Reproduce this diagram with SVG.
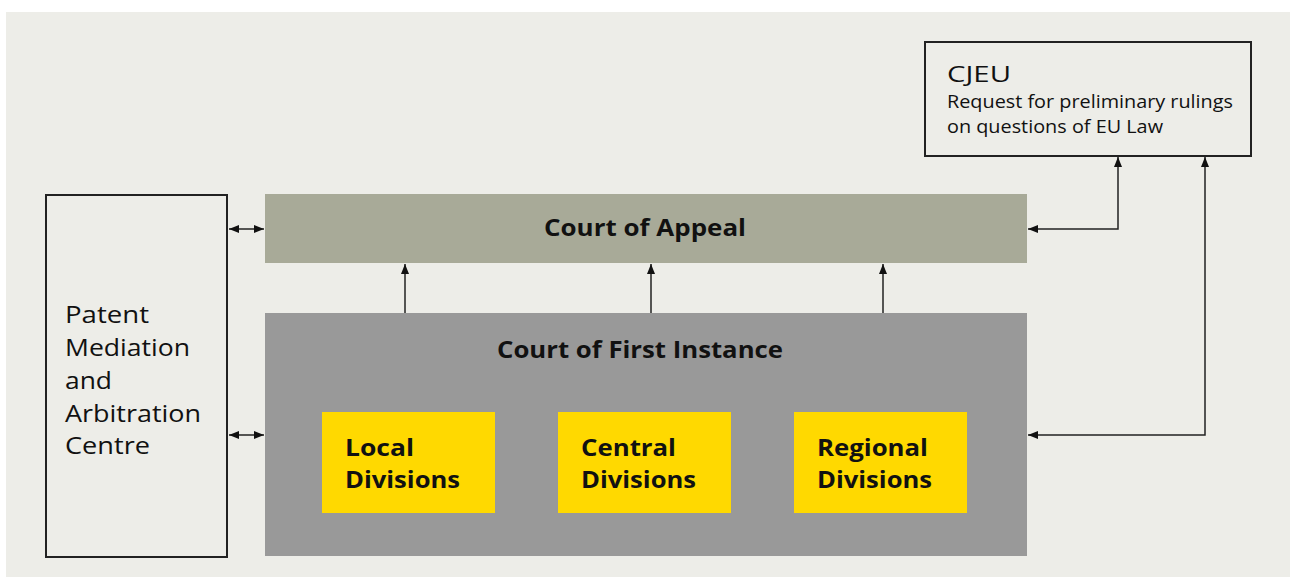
<svg xmlns="http://www.w3.org/2000/svg" width="1290" height="577" viewBox="0 0 1290 577">
<defs>
<style>
text{font-family:"Open Sans","Liberation Sans",Arial,sans-serif;fill:#111}
.b{font-weight:bold;font-size:23px}
.r{font-size:23px}
.s{font-size:17.5px}
.ln{stroke:#222;stroke-width:1.5;fill:none}
.box{fill:#edede8;stroke:#222;stroke-width:2}
.y{fill:#ffd900}
</style>
<marker id="ah" viewBox="0 0 10 10" refX="10" refY="5" markerWidth="10" markerHeight="10" markerUnits="userSpaceOnUse" orient="auto-start-reverse">
<path d="M0,1 L10,5 L0,9 Z" fill="#111"/>
</marker>
</defs>
<rect x="6" y="12" width="1284" height="565" fill="#edede8"/>
<g id="pmac">
<rect class="box" x="46" y="195" width="181" height="362"/>
<text class="r" x="65" y="323" textLength="84" lengthAdjust="spacingAndGlyphs">Patent</text>
<text class="r" x="65" y="356" textLength="125" lengthAdjust="spacingAndGlyphs">Mediation</text>
<text class="r" x="65" y="389" textLength="47" lengthAdjust="spacingAndGlyphs">and</text>
<text class="r" x="65" y="422" textLength="136" lengthAdjust="spacingAndGlyphs">Arbitration</text>
<text class="r" x="65" y="454" textLength="85" lengthAdjust="spacingAndGlyphs">Centre</text>
</g>
<g id="appeal">
<rect x="265" y="194" width="762" height="69" fill="#a8aa98"/>
<text class="b" x="544" y="236" textLength="202" lengthAdjust="spacingAndGlyphs">Court of Appeal</text>
</g>
<g id="first">
<rect x="265" y="313" width="762" height="243" fill="#999999"/>
<text class="b" x="497" y="358" textLength="286" lengthAdjust="spacingAndGlyphs">Court of First Instance</text>
</g>
<g id="local">
<rect class="y" x="322" y="412" width="173" height="101"/>
<text class="b" x="345" y="456" textLength="69" lengthAdjust="spacingAndGlyphs">Local</text>
<text class="b" x="345" y="488" textLength="115" lengthAdjust="spacingAndGlyphs">Divisions</text>
</g>
<g id="central">
<rect class="y" x="558" y="412" width="173" height="101"/>
<text class="b" x="581" y="456" textLength="95" lengthAdjust="spacingAndGlyphs">Central</text>
<text class="b" x="581" y="488" textLength="115" lengthAdjust="spacingAndGlyphs">Divisions</text>
</g>
<g id="regional">
<rect class="y" x="794" y="412" width="173" height="101"/>
<text class="b" x="817" y="456" textLength="111" lengthAdjust="spacingAndGlyphs">Regional</text>
<text class="b" x="817" y="488" textLength="115" lengthAdjust="spacingAndGlyphs">Divisions</text>
</g>
<g id="cjeu">
<rect class="box" x="925" y="42" width="326" height="114"/>
<text x="947" y="82" style="font-size:22px" textLength="64" lengthAdjust="spacingAndGlyphs">CJEU</text>
<text class="s" x="947" y="108" textLength="286" lengthAdjust="spacingAndGlyphs">Request for preliminary rulings</text>
<text class="s" x="947" y="133" textLength="216" lengthAdjust="spacingAndGlyphs">on questions of EU Law</text>
</g>
<g id="connectors">
<line class="ln" x1="229" y1="229" x2="264" y2="229" marker-start="url(#ah)" marker-end="url(#ah)"/>
<line class="ln" x1="229" y1="435" x2="264" y2="435" marker-start="url(#ah)" marker-end="url(#ah)"/>
<line class="ln" x1="405" y1="313" x2="405" y2="264" marker-end="url(#ah)"/>
<line class="ln" x1="651" y1="313" x2="651" y2="264" marker-end="url(#ah)"/>
<line class="ln" x1="883" y1="313" x2="883" y2="264" marker-end="url(#ah)"/>
<polyline class="ln" points="1028,229 1118,229 1118,157" marker-start="url(#ah)" marker-end="url(#ah)"/>
<polyline class="ln" points="1028,435 1205,435 1205,157" marker-start="url(#ah)" marker-end="url(#ah)"/>
</g>
</svg>
